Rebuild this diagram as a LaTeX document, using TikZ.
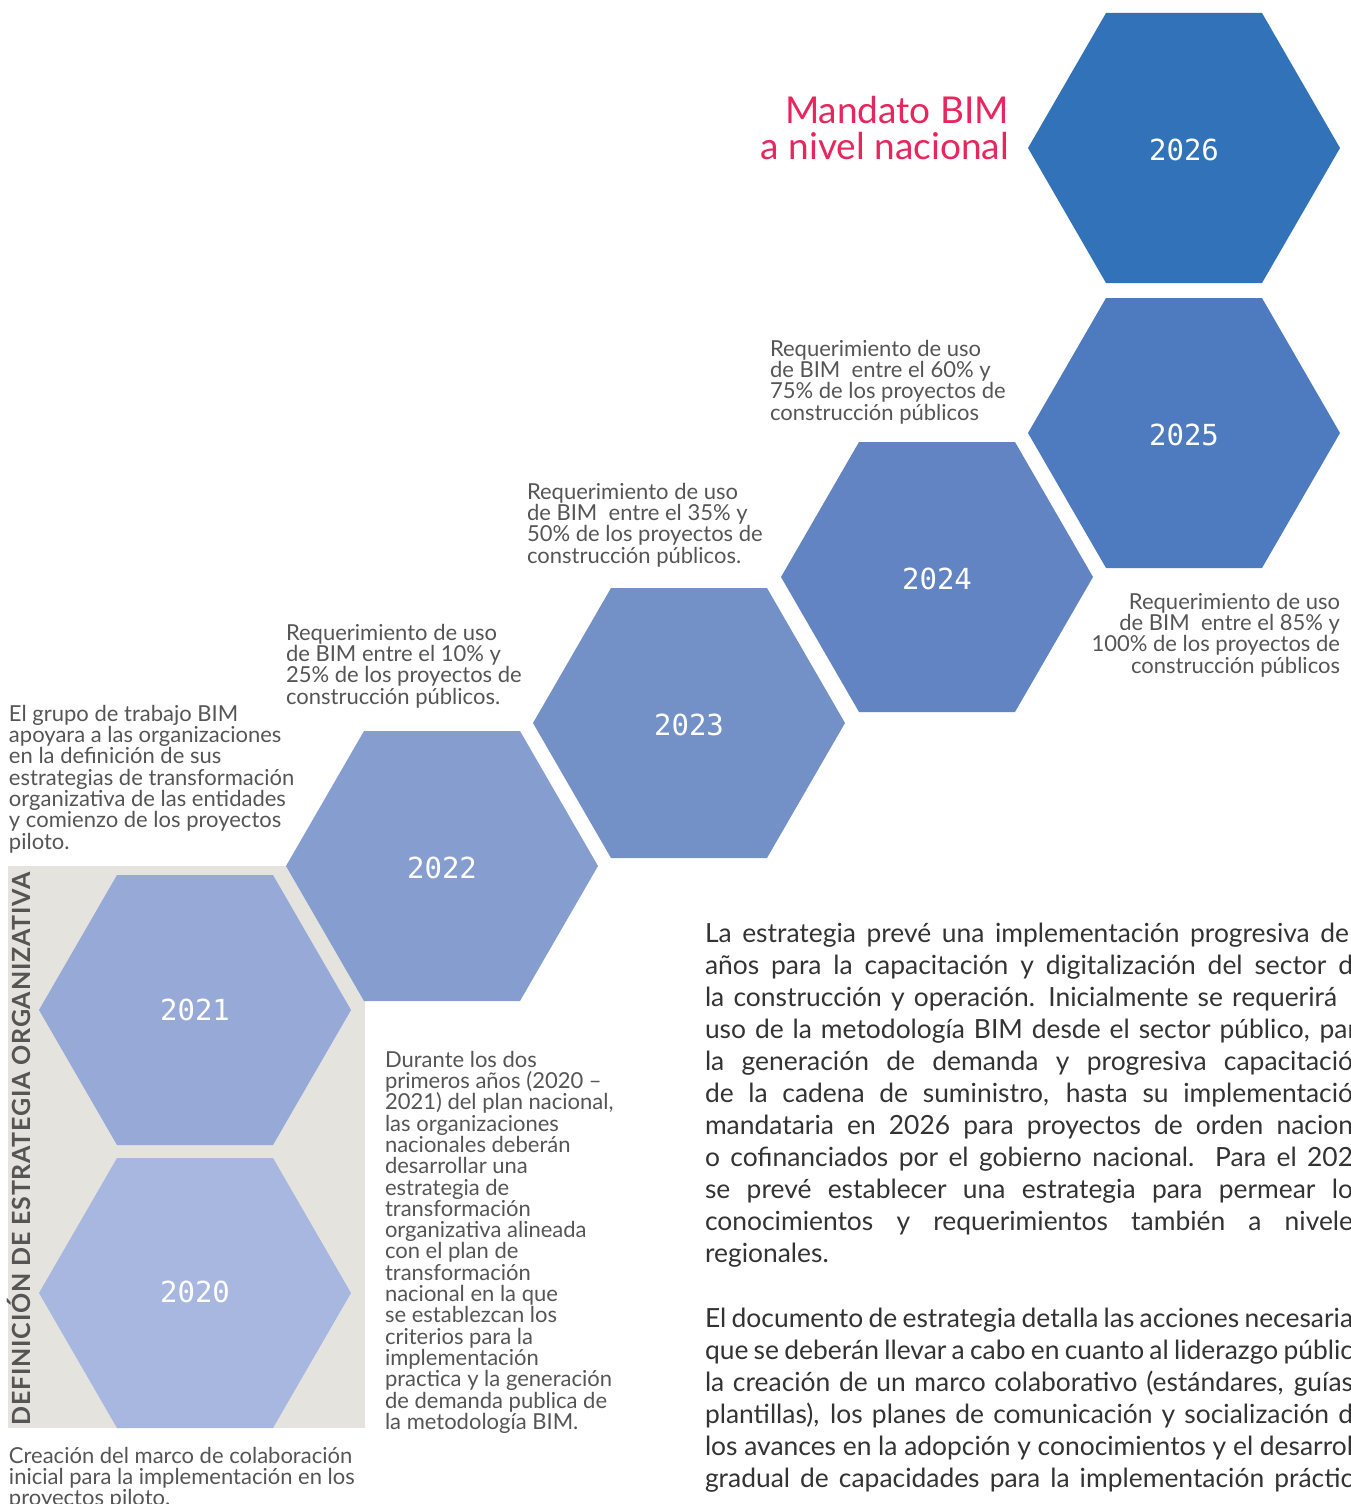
\documentclass[tikz,border=0pt]{standalone}
\usepackage{fontspec}
\setmainfont{Lato}
\newfontfamily\yearfont{DejaVu Sans Mono}
\definecolor{cffffff}{RGB}{255,255,255}
\definecolor{c3172b9}{RGB}{49,114,185}
\definecolor{c4e7bbf}{RGB}{78,123,191}
\definecolor{c6384c2}{RGB}{99,132,194}
\definecolor{c7390c7}{RGB}{115,144,199}
\definecolor{c869dd0}{RGB}{134,157,208}
\definecolor{c97a9d7}{RGB}{151,169,215}
\definecolor{ca8b7e0}{RGB}{168,183,224}
\definecolor{ce4e3de}{RGB}{228,227,222}
\definecolor{ce8265e}{RGB}{232,38,94}
\definecolor{c555555}{RGB}{85,85,85}
\definecolor{c333333}{RGB}{51,51,51}
\newcommand{\fullline}[1]{\makebox[324pt][s]{#1}}

\begin{document}
\begin{tikzpicture}[y=0.5pt, x=0.5pt, yscale=-1, inner sep=0pt, outer sep=0pt,
  note/.style={text=c555555, align=left, font=\fontsize{11}{10.65}\selectfont},
  year/.style={text=cffffff, font=\yearfont\fontsize{14.5}{14.5}\selectfont},
  body/.style={text=c333333, text width=340pt, align=left,
    font=\fontsize{13.2}{16}\selectfont}]
  \path[use as bounding box] (0,0) rectangle (1350,1504);
  \clip (0,0) rectangle (1350,1504);
  % grey band behind 2020 and 2021
  \path[fill=ce4e3de] (8,866) rectangle (365,1428);
  \path[fill=c3172b9] (1028,148) -- (1106,13) -- (1262,13) -- (1340,148) --
  (1262,283) -- (1106,283) -- cycle;
  \path[fill=c4e7bbf] (1028,433) -- (1106,298) -- (1262,298) -- (1340,433) --
  (1262,568) -- (1106,568) -- cycle;
  \path[fill=c6384c2] (781,577) -- (859,442) -- (1015,442) -- (1093,577) --
  (1015,712) -- (859,712) -- cycle;
  \path[fill=c7390c7] (533,723) -- (611,588) -- (767,588) -- (845,723) --
  (767,858) -- (611,858) -- cycle;
  \path[fill=c869dd0] (286,866) -- (364,731) -- (520,731) -- (598,866) --
  (520,1001) -- (364,1001) -- cycle;
  \path[fill=c97a9d7] (39,1010) -- (117,875) -- (273,875) -- (351,1010) --
  (273,1145) -- (117,1145) -- cycle;
  \path[fill=ca8b7e0] (39,1293) -- (117,1158) -- (273,1158) -- (351,1293) --
  (273,1428) -- (117,1428) -- cycle;
  \path (1184,150) node[year] (text2026) {2026};
  \path (1184,435) node[year] (text2025) {2025};
  \path (937,579) node[year] (text2024) {2024};
  \path (689,725) node[year] (text2023) {2023};
  \path (442,868) node[year] (text2022) {2022};
  \path (195,1010) node[year] (text2021) {2021};
  \path (195,1292) node[year] (text2020) {2020};
  \path (1009,96) node[anchor=north east, align=right, text=ce8265e,
    font=\fontsize{18.5}{18}\selectfont] (textmandato) {Mandato BIM\\a nivel nacional};
  \path (770,340) node[note, anchor=north west] (note2024) {Requerimiento de uso\\
    de BIM\ \ entre el 60\% y\\75\% de los proyectos de\\construcción públicos};
  \path (527,483) node[note, anchor=north west] (note2023) {Requerimiento de uso\\
    de BIM\ \ entre el 35\% y\\50\% de los proyectos de\\construcción públicos.};
  \path (286,624) node[note, anchor=north west] (note2022) {Requerimiento de uso\\
    de BIM entre el 10\% y\\25\% de los proyectos de\\construcción públicos.};
  \path (1340,593) node[note, anchor=north east, align=right] (note2025)
    {Requerimiento de uso\\de BIM\ \ entre el 85\% y\\100\% de los proyectos de\\
    construcción públicos};
  \path (9,705) node[note, anchor=north west] (note2021) {El grupo de trabajo BIM\\
    apoyara a las organizaciones\\en la definición de sus\\estrategias de transformación\\
    organizativa de las entidades\\y comienzo de los proyectos\\piloto.};
  \path (385,1051) node[note, anchor=north west] (notedurante) {Durante los dos\\
    primeros años (2020 –\\2021) del plan nacional,\\las organizaciones\\
    nacionales deberán\\desarrollar una\\estrategia de\\transformación\\
    organizativa alineada\\con el plan de\\transformación\\nacional en la que\\
    se establezcan los\\criterios para la\\implementación\\
    practica y la generación\\de demanda publica de\\la metodología BIM.};
  \path (9,1447) node[note, anchor=north west] (note2020) {Creación del marco de colaboración\\
    inicial para la implementación en los\\proyectos piloto.};
  \path (30,1149) node[anchor=base, rotate=90, text=c555555,
    font=\bfseries\fontsize{12.5}{12.5}\selectfont\addfontfeature{LetterSpace=3}]
    (textestrategia) {DEFINICIÓN DE ESTRATEGIA ORGANIZATIVA};
  \path (705,923) node[body, anchor=north west] (textprevé) {%
    \spaceskip=0.22em plus 1em minus 0.05em
    \makebox[322pt][s]{La estrategia prevé una implementación progresiva de}\\
    \fullline{años para la capacitación y digitalización del sector d}\\
    \makebox[316pt][s]{la construcción y operación. Inicialmente se requerirá}\\
    \makebox[326pt][s]{uso de la metodología BIM desde el sector público, par}\\
    \fullline{la generación de demanda y progresiva capacitació}\\
    \fullline{de la cadena de suministro, hasta su implementació}\\
    \fullline{mandataria en 2026 para proyectos de orden nacion}\\
    \fullline{o cofinanciados por el gobierno nacional.\ \ Para el 202}\\
    \fullline{se prevé establecer una estrategia para permear lo}\\
    \fullline{conocimientos y requerimientos también a nivele}\\
    regionales.};
  \path (705,1308) node[body, anchor=north west] (textdocumento) {%
    \spaceskip=0.1em plus 1em minus 0.05em
    \fullline{El documento de estrategia detalla las acciones necesaria}\\
    \fullline{que se deberán llevar a cabo en cuanto al liderazgo públic}\\
    \fullline{la creación de un marco colaborativo (estándares, guías}\\
    \fullline{plantillas), los planes de comunicación y socialización d}\\
    \fullline{los avances en la adopción y conocimientos y el desarrol}\\
    \fullline{gradual de capacidades para la implementación práctic}};
\end{tikzpicture}
\end{document}
